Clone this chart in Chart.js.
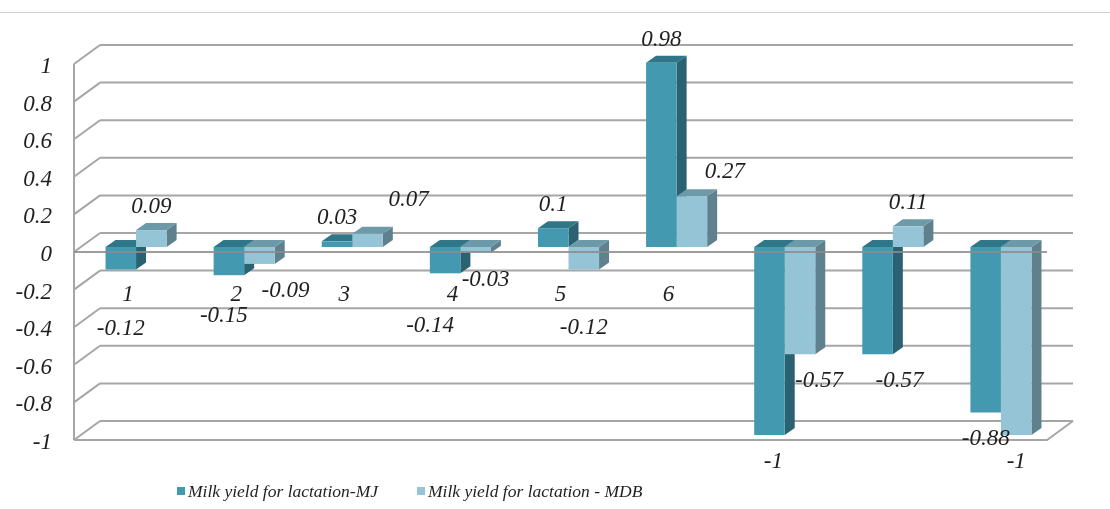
<!DOCTYPE html>
<html>
<head>
<meta charset="utf-8">
<script src="https://cdn.jsdelivr.net/npm/chart.js@4.4.1/dist/chart.umd.min.js"></script>
<style>
  html, body { margin: 0; padding: 0; background: #ffffff; }
  #wrap { position: relative; width: 1110px; height: 509px; overflow: hidden; }
  #chart { position: absolute; left: 0; top: 0; }
  #legend { position: absolute; left: 177px; top: 479px; height: 24px; white-space: nowrap;
            font: italic 17.5px "Liberation Serif", serif; color: #1f1f1f; }
  #legend .item { display: inline-flex; align-items: center; }
  #legend .item + .item { margin-left: 39px; }
  #legend .sw { display: inline-block; width: 8px; height: 8px; margin-right: 3px; }
</style>
</head>
<body>
<div id="wrap">
  <canvas id="chart" width="1110" height="509"></canvas>
  <div id="legend"></div>
</div>
<script>
// ---- data ----
const categories = ['1', '2', '3', '4', '5', '6', '7', '8', '9'];
const milkYieldMJ  = [-0.12, -0.15, 0.03, -0.14, 0.10, 0.98, -1.00, -0.57, -0.88];
const milkYieldMDB = [ 0.09, -0.09, 0.07, -0.03, -0.12, 0.27, -0.57, 0.11, -1.00];
const yTickValues  = [-1, -0.8, -0.6, -0.4, -0.2, 0, 0.2, 0.4, 0.6, 0.8, 1];
const seriesNames  = ['Milk yield for lactation-MJ', 'Milk yield for lactation - MDB'];

// ---- look ----
const FONT = { family: '"Liberation Serif", serif', size: 23, style: 'italic' };
const TEXT = '#1f1f1f';
const GRID = '#a6a6a6';
const palette = [
  { front: '#4399b0', top: '#2f7688', side: '#2a6272' },
  { front: '#94c4d5', top: '#6c9aa8', side: '#5f818d' }
];
const DEPTH = { x: 10, y: -7 };   // bar depth
const ROW   = { x: 8,  y: -5 };   // bar row sits behind the front plane
const WALL  = { x: 26, y: -19 };  // back wall offset from the front plane

// value labels: placed above / below the bar end, a few nudged aside
const labelGap = { pos: -23, neg: 27 };
const labelNudge = {
  '0-0': [0, 32], '0-1': [-5, 14], '0-3': [-15, 26], '0-6': [4, 0], '0-7': [22, 0],
  '1-1': [26, 0], '1-2': [41, -11], '1-3': [10, 0], '1-4': [0, 31], '1-5': [33, -1], '1-6': [19, 0]
};

const fmt = v => {
  const r = Math.round(v * 100) / 100;
  return (Object.is(r, -0) ? 0 : r).toString();
};

function poly(ctx, pts, fill) {
  ctx.beginPath();
  ctx.moveTo(pts[0][0], pts[0][1]);
  for (let i = 1; i < pts.length; i++) ctx.lineTo(pts[i][0], pts[i][1]);
  ctx.closePath();
  ctx.fillStyle = fill;
  ctx.fill();
}

function line(ctx, x1, y1, x2, y2) {
  ctx.beginPath();
  ctx.moveTo(x1, y1);
  ctx.lineTo(x2, y2);
  ctx.stroke();
}

const frame3d = {
  id: 'frame3d',
  beforeDatasetsDraw(chart) {
    const { ctx, chartArea: a, scales: { y } } = chart;
    ctx.save();
    // chart border at the top
    ctx.strokeStyle = '#cfcfcf';
    ctx.lineWidth = 1;
    line(ctx, 0, 12.5, chart.width, 12.5);

    // back wall and side wall grid
    ctx.strokeStyle = GRID;
    ctx.lineWidth = 2;
    yTickValues.forEach(v => {
      const py = y.getPixelForValue(v);
      line(ctx, a.left + WALL.x, py + WALL.y, a.right + WALL.x, py + WALL.y);
      line(ctx, a.left, py, a.left + WALL.x, py + WALL.y);
    });
    // front vertical edge of the side wall
    line(ctx, a.left, y.getPixelForValue(1), a.left, y.getPixelForValue(-1));
    // floor front edge and right edge
    const fy = y.getPixelForValue(-1);
    ctx.beginPath();
    ctx.moveTo(a.left, fy);
    ctx.lineTo(a.right, fy);
    ctx.lineTo(a.right + WALL.x, fy + WALL.y);
    ctx.stroke();
    ctx.restore();

    // top and side faces of the bars, left to right
    ctx.save();
    ctx.translate(ROW.x, ROW.y);
    const metas = [chart.getDatasetMeta(0), chart.getDatasetMeta(1)];
    for (let i = 0; i < categories.length; i++) {
      metas.forEach((meta, d) => {
        const el = meta.data[i];
        const l = el.x - el.width / 2, r = el.x + el.width / 2;
        const t = Math.min(el.y, el.base), b = Math.max(el.y, el.base);
        const c = palette[d];
        poly(ctx, [[r, t], [r + DEPTH.x, t + DEPTH.y], [r + DEPTH.x, b + DEPTH.y], [r, b]], c.side);
        poly(ctx, [[l, t], [r, t], [r + DEPTH.x, t + DEPTH.y], [l + DEPTH.x, t + DEPTH.y]], c.top);
      });
    }
    ctx.restore();

    // front faces are drawn by the bar controller in the same row plane
    ctx.save();
    ctx.translate(ROW.x, ROW.y);
  },
  afterDatasetsDraw(chart) {
    const { ctx, chartArea: a, scales: { y } } = chart;
    ctx.restore();

    // zero line on the front plane
    ctx.save();
    ctx.strokeStyle = 'rgba(140,140,140,0.85)';
    ctx.lineWidth = 2;
    const zy = y.getPixelForValue(0);
    line(ctx, a.left, zy, a.right, zy);

    // value labels
    ctx.font = `${FONT.style} ${FONT.size}px ${FONT.family}`;
    ctx.fillStyle = TEXT;
    ctx.textAlign = 'center';
    ctx.textBaseline = 'middle';
    chart.data.datasets.forEach((ds, d) => {
      chart.getDatasetMeta(d).data.forEach((el, i) => {
        const v = ds.data[i];
        const n = labelNudge[`${d}-${i}`] || [0, 0];
        const lx = el.x + ROW.x + n[0];
        const ly = el.y + ROW.y + (v >= 0 ? labelGap.pos : labelGap.neg) + n[1];
        ctx.fillText(fmt(v), lx, ly);
      });
    });
    ctx.restore();
  }
};

const chart = new Chart(document.getElementById('chart'), {
  type: 'bar',
  data: {
    labels: categories,
    datasets: [
      { label: seriesNames[0], data: milkYieldMJ, backgroundColor: palette[0].front },
      { label: seriesNames[1], data: milkYieldMDB, backgroundColor: palette[1].front }
    ]
  },
  options: {
    responsive: false,
    animation: false,
    events: [],
    categoryPercentage: 0.565,
    barPercentage: 1,
    layout: { padding: { top: 64, bottom: 69, left: 0, right: 63 } },
    plugins: { legend: { display: false }, tooltip: { enabled: false } },
    scales: {
      x: {
        position: { y: 0 },
        grid: { display: false, drawTicks: false },
        border: { display: false },
        ticks: { font: FONT, color: TEXT, padding: 29, maxRotation: 0 }
      },
      y: {
        min: -1, max: 1,
        afterBuildTicks(scale) { scale.ticks = yTickValues.map(v => ({ value: v })); },
        afterFit(scale) { scale.width = 74; },
        grid: { display: false, drawTicks: false },
        border: { display: false },
        ticks: { font: FONT, color: TEXT, padding: 22, labelOffset: 3, callback: v => fmt(v) }
      }
    }
  },
  plugins: [frame3d]
});

// legend
const legend = document.getElementById('legend');
chart.data.datasets.forEach((ds, d) => {
  const item = document.createElement('span');
  item.className = 'item';
  const sw = document.createElement('span');
  sw.className = 'sw';
  sw.style.background = palette[d].front;
  const txt = document.createElement('span');
  txt.textContent = ds.label;
  item.appendChild(sw);
  item.appendChild(txt);
  legend.appendChild(item);
});
</script>
</body>
</html>
